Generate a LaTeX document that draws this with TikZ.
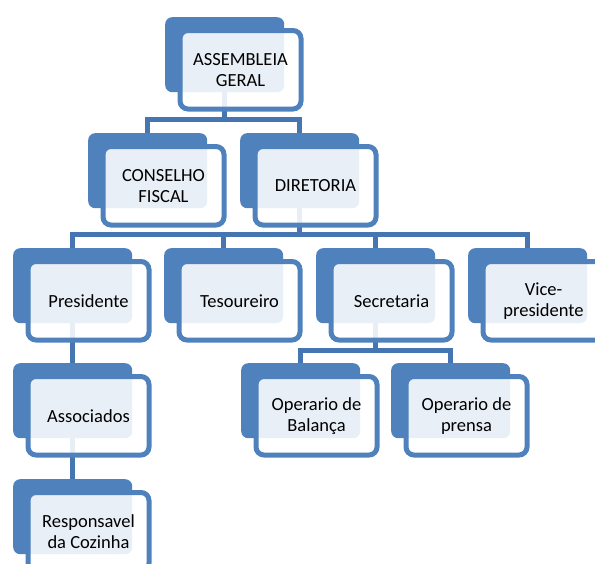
\documentclass[tikz,border=0pt]{standalone}
\usepackage{fontspec}
\setmainfont{Carlito}
\pgfdeclarelayer{links}
\pgfsetlayers{links,main}
\definecolor{accent}{HTML}{4F81BD}
\definecolor{linkblue}{HTML}{4676B2}
\tikzset{
  backbox/.style={fill=accent, rounded corners=7pt, minimum width=119pt,
    minimum height=75pt, inner sep=0pt, anchor=north west},
  frontbox/.style={draw=accent, line width=5pt, fill=white, fill opacity=0.88,
    text opacity=1, rounded corners=8pt, minimum width=121pt,
    minimum height=78.5pt, inner sep=0pt, anchor=north west,
    font=\fontsize{18.5}{21}\selectfont, align=center, text=black},
  link/.style={draw=linkblue, line width=5pt},
}
% one unit: a blue card behind, a framed card in front holding the text
\newcommand\orgunit[4]{%
  \node[backbox] (#1) at (#2,-#3) {};
  \node[frontbox] (#1-text) at (#2+12.5,-#3-11) {#4};
}
\begin{document}
\begin{tikzpicture}[x=1pt,y=1pt]
\path[use as bounding box, clip] (0,0) rectangle (595,-563);

\orgunit{ag}{165}{17}{ASSEMBLEIA\\GERAL}
\orgunit{cf}{88}{133}{CONSELHO\\FISCAL}
\orgunit{dir}{240}{133}{DIRETORIA}
\orgunit{pres}{13}{248}{Presidente}
\orgunit{tes}{164}{248}{Tesoureiro}
\orgunit{sec}{316}{248}{Secretaria}
\orgunit{vice}{468}{248}{Vice-\\presidente}
\orgunit{assoc}{13}{363}{Associados}
\orgunit{bal}{241}{363}{Operario de\\Balança}
\orgunit{pren}{391}{363}{Operario de\\prensa}
\orgunit{coz}{13}{479}{Responsavel\\da Cozinha}

% heights of the horizontal bars
\coordinate (bar1) at (0,-119);
\coordinate (bar2) at (0,-234);
\coordinate (bar3) at (0,-350);

\begin{pgfonlayer}{links}
  \draw[link] (ag) -- (ag |- bar1) -| (cf);
  \draw[link] (ag |- bar1) -| (dir);
  \draw[link] (dir) -- (dir |- bar2) -| (pres);
  \draw[link] (dir |- bar2) -| (tes);
  \draw[link] (dir |- bar2) -| (sec);
  \draw[link] (dir |- bar2) -| (vice);
  \draw[link] (sec) -- (sec |- bar3) -| (bal);
  \draw[link] (sec |- bar3) -| (pren);
  \draw[link] (pres) -- (assoc);
  \draw[link] (assoc) -- (coz);
\end{pgfonlayer}
\end{tikzpicture}
\end{document}
